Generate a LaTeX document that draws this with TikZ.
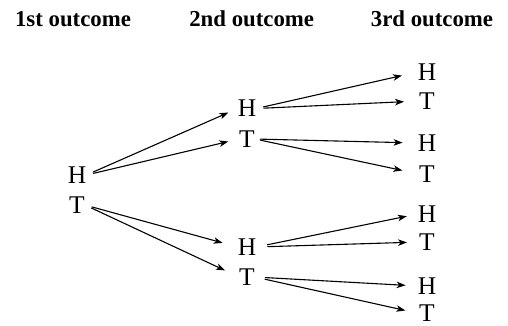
\documentclass[tikz,border=0pt]{standalone}
\usepackage{fontspec}
\setmainfont{Liberation Serif}
\usetikzlibrary{arrows.meta}
\begin{document}
\begin{tikzpicture}[x=1pt,y=-1pt,
  head/.style={font=\fontsize{22.8}{27}\selectfont\bfseries, anchor=base, inner sep=0pt},
  face/.style={font=\fontsize{25.5}{30}\selectfont, inner sep=0pt, text height=16.9pt, text depth=0pt},
  branch/.style={-{Stealth[length=9pt,width=6.5pt,inset=2.5pt]}, line width=1.1pt}]
\useasboundingbox (0,0) rectangle (508,325);
% column headings
\node[head] (h1) at (73,26.7) {1st outcome};
\node[head] (h2) at (251.7,26.7) {2nd outcome};
\node[head] (h3) at (432,26.7) {3rd outcome};
% first toss
\node[face] (aH) at (77,175) {H};
\node[face] (aT) at (77,205) {T};
% second toss
\node[face] (bHH) at (247,108.5) {H};
\node[face] (bHT) at (247,139) {T};
\node[face] (bTH) at (247,247) {H};
\node[face] (bTT) at (247,277) {T};
% third toss
\node[face] (cHHH) at (427,72) {H};
\node[face] (cHHT) at (427,101) {T};
\node[face] (cHTH) at (427,143) {H};
\node[face] (cHTT) at (427,174) {T};
\node[face] (cTHH) at (427,214) {H};
\node[face] (cTHT) at (427,242) {T};
\node[face] (cTTH) at (427,286) {H};
\node[face] (cTTT) at (427,313.5) {T};
% branches from the first toss
\draw[branch, shorten <=7pt, shorten >=10pt] (aH.east) -- (bHH.west);
\draw[branch, shorten <=7pt, shorten >=11pt] (aH.east) -- (bHT.west);
\draw[branch, shorten <=7pt, shorten >=15.5pt] (aT.east) -- (bTH.west);
\draw[branch, shorten <=7pt, shorten >=15.5pt] (aT.east) -- (bTT.west);
% branches from the second toss
\draw[branch, shorten <=7pt, shorten >=16pt] (bHH.east) -- (cHHH.west);
\draw[branch, shorten <=7pt, shorten >=15pt] (bHH.east) -- (cHHT.west);
\draw[branch, shorten <=5pt, shorten >=15pt] (bHT.east) -- (cHTH.west);
\draw[branch, shorten <=5pt, shorten >=17pt] (bHT.east) -- (cHTT.west);
\draw[branch, shorten <=11pt, shorten >=11pt] (bTH.east) -- (cTHH.west);
\draw[branch, shorten <=11pt, shorten >=12pt] (bTH.east) -- (cTHT.west);
\draw[branch, shorten <=10pt, shorten >=12pt] (bTT.east) -- (cTTH.west);
\draw[branch, shorten <=10pt, shorten >=14pt] (bTT.east) -- (cTTT.west);
\end{tikzpicture}
\end{document}
